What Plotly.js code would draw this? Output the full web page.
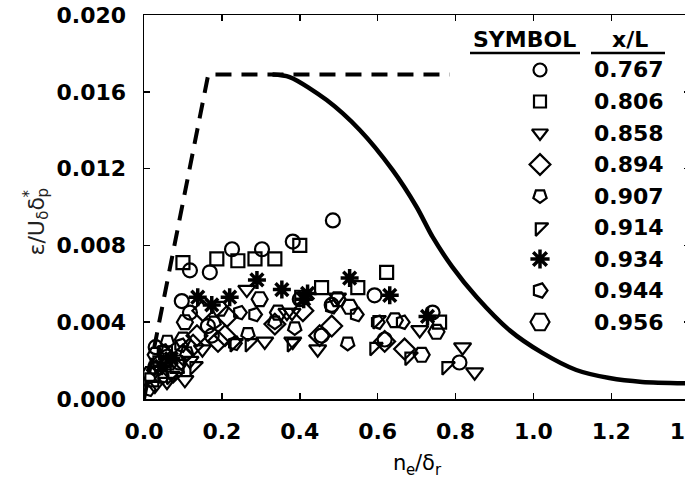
<!DOCTYPE html>
<html>
<head>
<meta charset="utf-8">
<script src="https://cdn.plot.ly/plotly-3.0.1.min.js"></script>
<style>
html, body { margin: 0; padding: 0; overflow: hidden; background: #fff; }
#chart { width: 690px; height: 478px; }
</style>
</head>
<body>
<div id="chart"></div>
<script>
// ---- data ----
const xL = ['0.767', '0.806', '0.858', '0.894', '0.907', '0.914', '0.934', '0.944', '0.956'];

const c767_x = [0.485, 0.118, 0.169, 0.226, 0.303, 0.382, 0.097, 0.118, 0.164, 0.400, 0.482, 0.592, 0.741, 0.456, 0.618, 0.810, 0.174, 0.030, 0.060, 0.090, 0.045];
const c767_y = [0.0093, 0.0067, 0.0066, 0.0078, 0.0078, 0.0082, 0.0051, 0.0045, 0.0038, 0.0052, 0.0049, 0.0054, 0.0045, 0.0033, 0.0031, 0.0019, 0.0033, 0.0027, 0.0022, 0.0019, 0.0012];

const c806_x = [0.100, 0.187, 0.241, 0.285, 0.336, 0.400, 0.456, 0.405, 0.549, 0.623, 0.759, 0.055, 0.085, 0.020];
const c806_y = [0.0071, 0.0073, 0.0072, 0.0073, 0.0073, 0.0080, 0.0058, 0.0053, 0.0058, 0.0066, 0.0040, 0.0024, 0.0017, 0.0010];

const c858_x = [0.264, 0.367, 0.497, 0.380, 0.310, 0.382, 0.446, 0.708, 0.818, 0.849, 0.105, 0.059, 0.028, 0.118, 0.150];
const c858_y = [0.0057, 0.0045, 0.0053, 0.0045, 0.0030, 0.0030, 0.0026, 0.0036, 0.0027, 0.0014, 0.0010, 0.0009, 0.0007, 0.0020, 0.0026];

const c894_x = [0.151, 0.213, 0.408, 0.136, 0.126, 0.190, 0.208, 0.451, 0.482, 0.336, 0.669, 0.618, 0.040, 0.075, 0.100];
const c894_y = [0.0046, 0.0043, 0.0046, 0.0033, 0.0028, 0.0030, 0.0033, 0.0033, 0.0038, 0.0039, 0.0026, 0.0030, 0.0018, 0.0014, 0.0023];

const c907_x = [0.336, 0.267, 0.387, 0.523, 0.060, 0.110, 0.025, 0.180];
const c907_y = [0.0040, 0.0034, 0.0037, 0.0029, 0.0030, 0.0024, 0.0016, 0.0040];

const c914_x = [0.272, 0.380, 0.600, 0.592, 0.682, 0.777, 0.233, 0.070, 0.035, 0.130];
const c914_y = [0.0029, 0.0029, 0.0041, 0.0027, 0.0022, 0.0017, 0.0029, 0.0012, 0.0020, 0.0017];

const c934_x = [0.290, 0.354, 0.220, 0.138, 0.174, 0.420, 0.528, 0.631, 0.728, 0.410, 0.070, 0.045];
const c934_y = [0.0062, 0.0057, 0.0053, 0.0053, 0.0049, 0.0055, 0.0063, 0.0054, 0.0043, 0.0052, 0.0021, 0.0017];

const c944_x = [0.246, 0.285, 0.482, 0.546, 0.664, 0.233, 0.600, 0.050, 0.095, 0.012];
const c944_y = [0.0045, 0.0044, 0.0048, 0.0044, 0.0040, 0.0029, 0.0040, 0.0025, 0.0028, 0.0005];

const c956_x = [0.105, 0.195, 0.297, 0.344, 0.497, 0.528, 0.644, 0.751, 0.713, 0.030, 0.065, 0.015, 0.100];
const c956_y = [0.0040, 0.0047, 0.0052, 0.0045, 0.0052, 0.0048, 0.0041, 0.0035, 0.0023, 0.0023, 0.0019, 0.0013, 0.0031];

// dashed limit line and solid curve
const dash_x = [0.0, 0.165, 0.785];
const dash_y = [0.0, 0.0169, 0.0169];

const curve_x = [0.330, 0.374, 0.469, 0.554, 0.638, 0.700, 0.741, 0.792, 0.854, 0.938, 1.023, 1.110, 1.195, 1.279, 1.402];
const curve_y = [0.0169, 0.01677, 0.01557, 0.01401, 0.01193, 0.01000, 0.00844, 0.00687, 0.00531, 0.00359, 0.00240, 0.00151, 0.00109, 0.00089, 0.00082];

const xTickVals = [0.0, 0.2, 0.4, 0.6, 0.8, 1.0, 1.2, 1.4];
const yTickVals = [0.000, 0.004, 0.008, 0.012, 0.016, 0.020];

// axis titles, split into normal / subscript / superscript pieces
const xTitleParts = [['n', 'n'], ['e', 'sub'], ['/δ', 'n'], ['r', 'sub']];
const yTitleParts = [['ε/U', 'n'], ['δ', 'sub'], ['δ', 'n'], ['p', 'sub'], ['*', 'sup']];

// ---- styles ----
const series = [
  {x: c767_x, y: c767_y, symbol: 'circle-open', size: 14, lw: 2.2, angle: 0, lsize: 13},
  {x: c806_x, y: c806_y, symbol: 'square-open', size: 13, lw: 2.2, angle: 0, lsize: 12},
  {x: c858_x, y: c858_y, symbol: 'triangle-down-open', size: 15, lw: 2.2, angle: 0, lsize: 14},
  {x: c894_x, y: c894_y, symbol: 'diamond-open', size: 16, lw: 2.2, angle: 0, lsize: 16},
  {x: c907_x, y: c907_y, symbol: 'pentagon-open', size: 14, lw: 2.2, angle: 180, lsize: 14},
  {x: c914_x, y: c914_y, symbol: 'triangle-nw-open', size: 14, lw: 2.2, angle: 0, lsize: 14},
  {x: c934_x, y: c934_y, symbol: 'asterisk-open', size: 15, lw: 3.5, angle: 0, lsize: 16},
  {x: c944_x, y: c944_y, symbol: 'pentagon-open', size: 14, lw: 2.2, angle: 90, lsize: 15},
  {x: c956_x, y: c956_y, symbol: 'hexagon2-open', size: 16, lw: 2.2, angle: 0, lsize: 19}
];

const W = 690, H = 478, ML = 144, MT = 15, MB = 79;
const PW = W - ML, PH = H - MT - MB;
const px2x = px => (px - ML) / PW;          // pixel -> paper x
const py2y = py => (H - MB - py) / PH;      // pixel -> paper y

// legend table geometry (paper fractions)
const LEG_TOP = py2y(54.25), LEG_BOT = py2y(337.75);
const rowY = i => LEG_TOP - (i + 0.5) / xL.length * (LEG_TOP - LEG_BOT);

const traces = [];
traces.push({
  x: dash_x, y: dash_y, mode: 'lines', type: 'scatter', showlegend: false, hoverinfo: 'skip',
  line: {color: '#000', width: 4, dash: '16px,10px'}
});
traces.push({
  x: curve_x, y: curve_y, mode: 'lines', type: 'scatter', showlegend: false, hoverinfo: 'skip',
  line: {color: '#000', width: 4.5, shape: 'spline', smoothing: 0.8}
});
series.forEach((s, i) => {
  traces.push({
    x: s.x, y: s.y, mode: 'markers', type: 'scatter', name: xL[i], showlegend: false,
    marker: {symbol: s.symbol, size: s.size, angle: s.angle, color: '#000',
             line: {color: '#000', width: s.lw}}
  });
  // legend key symbol on a bare axis pair (row index)
  traces.push({
    x: [0], y: [i], xaxis: 'x2', yaxis: 'y2', mode: 'markers', type: 'scatter', showlegend: false,
    hoverinfo: 'skip',
    marker: {symbol: s.symbol, size: s.lsize, angle: s.angle, color: '#000',
             line: {color: '#000', width: s.lw}}
  });
});

const FONT = 'DejaVu Sans, Arial, sans-serif';
const boldFont = {family: FONT, size: 22, color: '#000', weight: 'bold'};
const annotations = xL.map((t, i) => ({
  text: t, xref: 'paper', yref: 'paper', x: px2x(592), y: rowY(i),
  xanchor: 'left', yanchor: 'middle', showarrow: false, font: boldFont
}));
annotations.push({
  text: 'SYMBOL', xref: 'paper', yref: 'paper', x: px2x(524), y: py2y(40),
  xanchor: 'center', yanchor: 'middle', showarrow: false, font: boldFont
});
annotations.push({
  text: 'x/L', xref: 'paper', yref: 'paper', x: px2x(630), y: py2y(40),
  xanchor: 'center', yanchor: 'middle', showarrow: false, font: boldFont
});

// x title: laid out left to right from measured advance widths (DejaVu Sans)
(function () {
  const adv = {'n': 0.634, 'e': 0.615, '/δ': 0.947, 'r': 0.411};
  const big = 21, small = 15;
  let total = 0;
  xTitleParts.forEach(([t, k]) => { total += adv[t] * (k === 'n' ? big : small); });
  let cx = 417 - total / 2;
  xTitleParts.forEach(([t, k]) => {
    const fs = k === 'n' ? big : small;
    annotations.push({
      text: t, xref: 'paper', yref: 'paper', x: px2x(cx - 1), y: py2y(k === 'n' ? 463 : 470),
      xanchor: 'left', yanchor: 'middle', showarrow: false, borderpad: 0,
      font: {family: FONT, size: fs, color: '#000'}
    });
    cx += adv[t] * fs;
  });
})();

// y title: rotated, reading bottom to top
(function () {
  const adv = {'ε/U': 1.63, 'δ': 0.612, 'p': 0.635, '*': 0.5};
  const big = 22, small = 15;
  let by = 257;                      // bottom pixel of the running text
  let lastBase = by;
  yTitleParts.forEach(([t, k]) => {
    const fs = k === 'n' ? big : small;
    const cx = k === 'n' ? 36 : (k === 'sub' ? 43 : 29);
    const bottom = k === 'sup' ? lastBase : by;
    annotations.push({
      text: t, xref: 'paper', yref: 'paper', x: px2x(cx), y: py2y(bottom),
      xanchor: 'center', yanchor: 'bottom', textangle: -90, showarrow: false, borderpad: 0,
      font: {family: FONT, size: fs, color: '#222'}
    });
    if (k !== 'sup') { lastBase = by; by -= adv[t] * fs; }
  });
})();

const bareAxis = {showticklabels: false, showgrid: false, zeroline: false, showline: false,
                  ticks: '', fixedrange: true};

const layout = {
  width: W, height: H,
  margin: {l: ML, r: 0, t: MT, b: MB},
  paper_bgcolor: '#fff', plot_bgcolor: 'rgba(0,0,0,0)',
  showlegend: false,
  font: {family: FONT, color: '#000'},
  xaxis: {
    range: [0, 1.402], tickvals: xTickVals, tickformat: '.1f',
    ticks: 'inside', ticklen: 6, tickwidth: 1.5, tickcolor: '#000',
    showline: true, linecolor: '#000', linewidth: 1.5, mirror: 'ticks',
    showgrid: false, zeroline: false, ticklabelstandoff: 12, ticklabeloverflow: 'allow',
    tickfont: {family: FONT, size: 22, weight: 'bold', color: '#000'}
  },
  yaxis: {
    range: [0, 0.020], tickvals: yTickVals, tickformat: '.3f',
    ticks: 'inside', ticklen: 6, tickwidth: 1.5, tickcolor: '#000',
    showline: true, linecolor: '#000', linewidth: 1.5, mirror: 'ticks',
    showgrid: false, zeroline: false, ticklabelstandoff: 12,
    tickfont: {family: FONT, size: 22, weight: 'bold', color: '#000'}
  },
  xaxis2: Object.assign({domain: [px2x(526), px2x(554)], range: [-1, 1], anchor: 'y2'}, bareAxis),
  yaxis2: Object.assign({domain: [LEG_BOT, LEG_TOP], range: [xL.length - 0.5, -0.5], anchor: 'x2'}, bareAxis),
  shapes: [
    {type: 'line', xref: 'paper', yref: 'paper', x0: px2x(470), x1: px2x(580), y0: py2y(53), y1: py2y(53),
     line: {color: '#000', width: 2.5}},
    {type: 'line', xref: 'paper', yref: 'paper', x0: px2x(591), x1: px2x(665), y0: py2y(53), y1: py2y(53),
     line: {color: '#000', width: 2.5}}
  ],
  annotations: annotations
};

Plotly.newPlot('chart', traces, layout, {staticPlot: true, displayModeBar: false});
</script>
</body>
</html>
